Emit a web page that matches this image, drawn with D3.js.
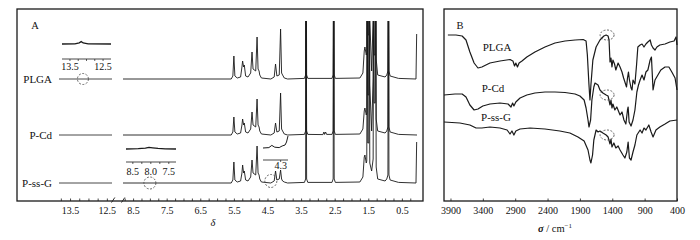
<!DOCTYPE html>
<meta charset="utf-8">
<script src="https://d3js.org/d3.v7.min.js"></script>
<style>
  body { margin: 0; background: #fff; }
  text { font-family: "Liberation Serif", "Times New Roman", serif; fill: #111; }
</style>
<div id="my_dataviz"></div>
<script>

// ---------- data ----------
// series names (top to bottom)
var seriesNames = ["PLGA", "P-Cd", "P-ss-G"];

// 1H NMR, delta (ppm) vs intensity (a.u.), stacked with offsets
var nmrOffsets = [61, 33, 9];
var nmrPLGA = [[8.8,0],[5.58,0],[5.53,1.5],[5.50,11.5],[5.47,1.5],[5.40,0.5],[5.30,1],[5.26,6],[5.24,9],[5.21,6],[5.19,7],[5.15,1.5],[5.08,1],[5.00,3],[4.96,13.5],[4.93,5],[4.85,4],[4.81,21],[4.78,5],[4.75,4],[4.73,2],[4.68,0.5],[4.40,0],[4.30,1],[4.26,7.5],[4.22,1.5],[4.15,2],[4.11,25],[4.08,3],[4.05,2],[4.00,0.5],[3.9,0],[3.40,0.3],[3.365,2],[3.35,100],[3.335,2],[3.30,0.3],[2.58,0.3],[2.545,2],[2.53,100],[2.515,2],[2.48,0.3],[1.75,0.5],[1.66,3],[1.62,14],[1.60,16],[1.56,12],[1.545,13],[1.53,100],[1.515,22],[1.485,22],[1.47,100],[1.455,30],[1.40,4],[1.355,30],[1.34,100],[1.325,42],[1.295,42],[1.28,100],[1.265,10],[1.22,2],[1.0,1],[0.95,2],[0.915,4],[0.90,100],[0.885,4],[0.85,1.5],[0.6,0.3],[0.08,0],[0.06,22.5]];
var nmrPCd = [[8.8,0],[5.58,0],[5.53,1.5],[5.50,9],[5.47,1.5],[5.40,0.5],[5.30,1],[5.26,5],[5.24,8],[5.21,5],[5.19,6],[5.15,1.5],[5.08,1],[5.00,3],[4.96,11.5],[4.93,5],[4.85,4],[4.81,18],[4.78,5],[4.75,4],[4.73,2],[4.68,0.5],[4.40,0],[4.30,1],[4.26,6],[4.22,1.5],[4.15,2],[4.11,21],[4.08,3],[4.05,2],[4.00,0.5],[3.9,0],[3.40,0.3],[3.365,2],[3.35,100],[3.335,2],[3.30,0.3],[2.85,0.2],[2.82,1.5],[2.80,0.3],[2.77,1.5],[2.74,0.3],[2.58,0.3],[2.545,2],[2.53,100],[2.515,2],[2.48,0.3],[1.75,0.5],[1.66,3],[1.62,12],[1.60,13.5],[1.56,10],[1.545,11],[1.53,100],[1.515,20],[1.485,20],[1.47,100],[1.455,25],[1.40,2],[1.355,28],[1.34,100],[1.325,40],[1.295,40],[1.28,100],[1.265,8],[1.22,2],[1.0,1],[0.95,2],[0.915,4],[0.90,100],[0.885,4],[0.85,1.5],[0.6,0.3],[0.05,0]];
var nmrPssG = [[8.8,0],[5.58,0],[5.53,1.5],[5.50,10.5],[5.47,1.5],[5.40,0.5],[5.30,1],[5.26,5],[5.24,9],[5.21,5],[5.19,6],[5.15,1.5],[5.08,1],[5.00,3],[4.96,11.5],[4.93,5],[4.85,4],[4.81,18.5],[4.78,5],[4.75,4],[4.73,2],[4.68,0.5],[4.40,0],[4.30,1],[4.26,6],[4.22,1.5],[4.15,2],[4.11,6.5],[4.08,2],[4.05,1],[4.00,0.5],[3.9,0],[3.40,0.3],[3.365,2],[3.35,100],[3.335,2],[3.30,0.3],[2.58,0.3],[2.545,2],[2.53,100],[2.515,2],[2.48,0.3],[1.75,0.5],[1.66,3],[1.62,13],[1.60,14],[1.56,10],[1.545,11],[1.53,100],[1.515,20],[1.485,20],[1.47,100],[1.455,10],[1.40,6],[1.355,12],[1.34,100],[1.325,40],[1.295,40],[1.28,100],[1.265,8],[1.22,2],[1.0,1],[0.95,2],[0.915,4],[0.90,100],[0.885,4],[0.85,1.5],[0.6,0.3],[0.08,0],[0.06,20.5]];
var nmrSeries = [nmrPLGA, nmrPCd, nmrPssG];
// 14 - 12 ppm window is flat for all three
var nmrLowField = [[13.8,0],[12.36,0]];

// expanded insets
var insetPLGA = [[13.74,0],[13.35,0.1],[13.22,0.6],[13.16,1.2],[13.1,0.5],[12.95,0.1],[12.26,0]];
var insetPssG = [[8.69,0],[8.35,0.2],[8.15,0.4],[8.05,0.8],[7.95,0.6],[7.8,0.3],[7.6,0.1],[7.3,0]];
var insetPssG43 = [[4.42,0],[4.38,0.2],[4.36,1.3],[4.34,0.4],[4.31,0.2],[4.29,1],[4.27,1.5],[4.26,3],[4.255,4.5],[4.25,6]];

var nmrTicks1 = [13.75,13.5,13.25,13,12.75,12.5];
var nmrLabels1 = [13.5,12.5];
var nmrTicks2 = d3.range(8.75, 0.2, -0.25);
var nmrLabels2 = [8.5,7.5,6.5,5.5,4.5,3.5,2.5,1.5,0.5];

// FTIR, wavenumber (cm-1) vs transmittance (a.u., stacked)
var irPLGA = [[3940,83],[3815,83],[3720,82.5],[3660,80.5],[3600,74.5],[3535,69],[3475,66.5],[3415,67],[3290,69],[3135,70],[2980,70.75],[2935,70],[2910,67.5],[2890,69],[2865,67],[2840,69],[2795,70],[2720,72],[2595,74.5],[2440,77],[2285,79],[2130,80],[1975,80.5],[1850,80.75],[1805,80],[1785,73],[1760,58],[1745,50.5],[1730,58],[1700,70.5],[1650,77],[1590,80.5],[1530,82.5],[1495,83],[1465,82.5],[1450,80.5],[1435,69.5],[1420,71.5],[1405,67],[1390,70.5],[1365,68.5],[1345,65.5],[1310,69],[1280,67],[1250,64.5],[1225,61.5],[1205,59.5],[1180,57],[1165,61.5],[1150,64.5],[1135,60.5],[1110,56.5],[1095,55.5],[1080,60.5],[1050,58.5],[1025,68],[1005,77],[970,78],[940,78.5],[910,77],[880,78.5],[850,79.5],[815,80.5],[795,78],[770,76.5],[740,75.5],[710,77],[665,78],[585,78.5],[510,79.5],[445,80],[415,82],[400,78]];
var irPCd = [[4000,53],[3830,53.5],[3720,53.5],[3660,52],[3600,48],[3535,45.5],[3475,46],[3400,47.5],[3290,48.5],[3135,49],[3010,48.5],[2965,47],[2940,49],[2920,47.5],[2890,49.5],[2825,51.5],[2720,53],[2595,54],[2440,54.5],[2285,54.5],[2130,54.25],[1975,53.5],[1900,52.5],[1835,50.5],[1805,46.5],[1775,40.5],[1760,37],[1735,40.5],[1715,50.5],[1685,57],[1667,59],[1620,58],[1590,55.5],[1545,54],[1495,53],[1465,52.5],[1435,48],[1420,50.5],[1405,46.5],[1390,48.5],[1360,45.5],[1330,47],[1280,43],[1250,44.5],[1220,40.5],[1190,38.5],[1165,45.5],[1155,47],[1140,39.5],[1110,37.5],[1080,40.5],[1050,45.5],[1020,54.5],[995,58],[970,60.5],[940,63],[910,60.5],[880,64.5],[850,65.5],[815,70.5],[795,72],[770,55.5],[740,60.5],[695,63],[650,65.5],[585,67],[525,67],[480,64.5],[430,61.5],[400,55.5]];
var irPssG = [[4000,39.5],[3755,39],[3600,38],[3505,36.5],[3415,36.5],[3290,37],[3135,36.5],[3025,35.5],[2980,33.5],[2950,35],[2920,33],[2890,35],[2825,36],[2670,36.5],[2440,36],[2210,35],[2055,34],[1930,32],[1835,30],[1775,25.5],[1745,20.5],[1730,19],[1705,23],[1685,30.5],[1650,35.5],[1620,34.5],[1590,35],[1545,34],[1495,33],[1465,32],[1435,28.5],[1420,31],[1405,27],[1375,29],[1345,26.5],[1310,27.5],[1280,25.5],[1235,23],[1205,21.5],[1175,24.5],[1155,29.5],[1135,21.5],[1110,20.5],[1080,24.5],[1050,28],[1020,33],[970,35.5],[940,34],[910,36.5],[880,35.5],[835,38],[800,34.5],[770,32],[725,35.5],[665,37],[585,38.5],[510,40],[400,40.5]];
var irSeries = [irPLGA, irPCd, irPssG];
var irTicks = [3900,3400,2900,2400,1900,1400,900,400];
var irMarkAt = 1480;   // dashed circles near 1480 cm-1

// ---------- page ----------
var svg = d3.select("#my_dataviz")
  .append("svg")
    .attr("width", 700)
    .attr("height", 240);

var ink = "#1a1a1a";

// ===== panel A =====
var A = {left: 17, right: 423, top: 9, bottom: 201};
var x1 = d3.scaleLinear().domain([13.8, 12.36]).range([59, 112]);
var x2 = d3.scaleLinear().domain([8.8, 0.05]).range([123, 417]);
var yA = d3.scaleLinear().domain([0, 96]).range([A.bottom, A.top]);

svg.append("clipPath").attr("id", "clipA")
  .append("rect")
    .attr("x", A.left).attr("y", yA(90))
    .attr("width", A.right - A.left).attr("height", A.bottom - yA(90));

var gA = svg.append("g").attr("clip-path", "url(#clipA)");

nmrSeries.forEach(function(s, i) {
  var off = nmrOffsets[i];
  var line2 = d3.line().x(function(d) { return x2(d[0]); }).y(function(d) { return yA(d[1] + off); });
  var line1 = d3.line().x(function(d) { return x1(d[0]); }).y(function(d) { return yA(d[1] + off); });
  gA.append("path").attr("d", line2(s))
    .attr("fill", "none").attr("stroke", ink).attr("stroke-width", 0.9).attr("stroke-linejoin", "round");
  gA.append("path").attr("d", line1(nmrLowField))
    .attr("fill", "none").attr("stroke", "#333").attr("stroke-width", 0.9);
  svg.append("text")
    .attr("x", 52).attr("y", yA(off)).attr("dy", "0.35em")
    .attr("text-anchor", "end").attr("font-size", 11)
    .text(seriesNames[i]);
});

// frame A
svg.append("rect")
  .attr("x", A.left).attr("y", A.top)
  .attr("width", A.right - A.left).attr("height", A.bottom - A.top)
  .attr("fill", "none").attr("stroke", ink).attr("stroke-width", 1.3);

// bottom axes of A (two segments)
function bottomAxis(scale, ticks, labels) {
  return d3.axisBottom(scale)
    .tickValues(ticks)
    .tickSize(-2.5)
    .tickSizeOuter(0)
    .tickPadding(6)
    .tickFormat(function(d) {
      return labels.some(function(l) { return Math.abs(l - d) < 1e-6; }) ? d3.format(".1f")(d) : "";
    });
}
function styleAxis(g) {
  g.select(".domain").remove();
  g.selectAll("line").attr("stroke", ink).attr("stroke-width", 0.8);
  g.selectAll("text").attr("font-family", "Liberation Serif, serif").attr("font-size", 10).attr("fill", ink);
}
svg.append("g").attr("transform", "translate(0," + A.bottom + ")")
  .call(bottomAxis(x1, nmrTicks1, nmrLabels1)).call(styleAxis);
svg.append("g").attr("transform", "translate(0," + A.bottom + ")")
  .call(bottomAxis(x2, nmrTicks2, nmrLabels2)).call(styleAxis);

// axis break marks
[x1.range()[1] + 1, x2.range()[0]].forEach(function(bx) {
  svg.append("line")
    .attr("x1", bx - 1.5).attr("y1", A.bottom + 1.5)
    .attr("x2", bx + 1.8).attr("y2", A.bottom - 3.5)
    .attr("stroke", ink).attr("stroke-width", 0.9);
});

svg.append("text").attr("x", 35).attr("y", 25).attr("dy", "0.35em")
  .attr("text-anchor", "middle").attr("font-size", 10.5).text("A");
svg.append("text").attr("x", 213).attr("y", 222).attr("dy", "0.35em")
  .attr("text-anchor", "middle").attr("font-size", 10.5).attr("font-style", "italic").text("δ");

// ----- insets -----
function inset(opts) {
  var xs = d3.scaleLinear().domain(opts.domain).range(opts.range);
  var g = svg.append("g");
  g.append("path")
    .attr("d", d3.line().x(function(d) { return xs(d[0]); }).y(function(d) { return yA(d[1] + opts.level); })(opts.data))
    .attr("fill", "none").attr("stroke", ink).attr("stroke-width", opts.width || 1.3);
  var ay = yA(opts.axisLevel);
  g.append("line").attr("x1", opts.range[0]).attr("x2", opts.range[1])
    .attr("y1", ay).attr("y2", ay).attr("stroke", ink).attr("stroke-width", 0.8);
  opts.ticks.forEach(function(t) {
    g.append("line").attr("x1", xs(t)).attr("x2", xs(t)).attr("y1", ay).attr("y2", ay + 2)
      .attr("stroke", ink).attr("stroke-width", 0.7);
  });
  opts.labels.forEach(function(t) {
    g.append("text").attr("x", xs(t)).attr("y", ay + opts.labelGap).attr("dy", "0.35em")
      .attr("text-anchor", "middle").attr("font-size", 10).text(d3.format(".1f")(t));
  });
}
inset({domain: [13.74, 12.26], range: [62, 111], data: insetPLGA, level: 78.5, axisLevel: 71,
       ticks: [13.5,13.25,13,12.75,12.5], labels: [13.5,12.5], labelGap: 7});
inset({domain: [8.69, 7.3], range: [126, 176], data: insetPssG, level: 26, axisLevel: 19.5,
       ticks: [8.5,8.25,8,7.75,7.5], labels: [8.5,8.0,7.5], labelGap: 9});
inset({domain: [4.42, 4.25], range: [263, 288], data: insetPssG43, level: 26.5, axisLevel: 20.5,
       ticks: [4.3], labels: [4.3], labelGap: 5, width: 1});

// dashed circles (A)
function ring(cx, cy, rx, ry) {
  svg.append("ellipse").attr("cx", cx).attr("cy", cy).attr("rx", rx).attr("ry", ry)
    .attr("fill", "none").attr("stroke", "#444").attr("stroke-width", 0.8)
    .attr("stroke-dasharray", "2,1.5");
}
ring(x1(13.15), yA(nmrOffsets[0]), 5.5, 5.5);
ring(x2(8.0), yA(nmrOffsets[2]), 6, 6);
ring(x2(4.4), yA(nmrOffsets[2]) - 2, 6, 6.5);

// ===== panel B =====
var B = {left: 444, right: 677, top: 9, bottom: 201};
var xB = d3.scaleLinear().domain([4000, 400]).range([B.left, B.right]);
var yB = d3.scaleLinear().domain([0, 96]).range([B.bottom, B.top]);

var irLine = d3.line().x(function(d) { return xB(d[0]); }).y(function(d) { return yB(d[1]); });
irSeries.forEach(function(s) {
  svg.append("path").attr("d", irLine(s))
    .attr("fill", "none").attr("stroke", ink).attr("stroke-width", 1.2).attr("stroke-linejoin", "round");
});

svg.append("rect")
  .attr("x", B.left).attr("y", B.top)
  .attr("width", B.right - B.left).attr("height", B.bottom - B.top)
  .attr("fill", "none").attr("stroke", ink).attr("stroke-width", 1.3);

svg.append("g").attr("transform", "translate(0," + B.bottom + ")")
  .call(d3.axisBottom(xB).tickValues(irTicks).tickSize(-2.5).tickSizeOuter(0).tickPadding(6).tickFormat(d3.format("d")))
  .call(styleAxis);

// circles around 1480 cm-1 on each trace
irSeries.forEach(function(s) {
  var near = s.reduce(function(a, b) { return Math.abs(b[0] - irMarkAt) < Math.abs(a[0] - irMarkAt) ? b : a; });
  ring(xB(irMarkAt), yB(near[1]), 7, 5);
});

svg.append("text").attr("x", 460).attr("y", 25).attr("dy", "0.35em")
  .attr("text-anchor", "middle").attr("font-size", 10.5).text("B");
var irLabelPos = [[497, 47], [493, 88], [496, 117]];
seriesNames.forEach(function(n, i) {
  svg.append("text").attr("x", irLabelPos[i][0]).attr("y", irLabelPos[i][1]).attr("dy", "0.35em")
    .attr("text-anchor", "middle").attr("font-size", 11).text(n);
});

var xl = svg.append("text").attr("x", 555).attr("y", 228).attr("dy", "0.35em")
  .attr("text-anchor", "middle").attr("font-size", 10.5);
xl.append("tspan").attr("font-style", "italic").attr("font-weight", "bold").text("σ");
xl.append("tspan").text(" / cm");
xl.append("tspan").attr("font-size", 7).attr("dy", -4).text("−1");

</script>
